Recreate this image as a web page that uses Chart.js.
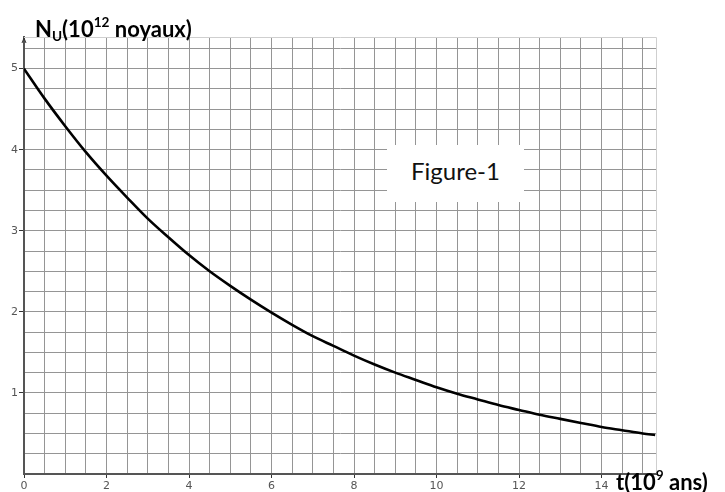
<!DOCTYPE html>
<html>
<head>
<meta charset="utf-8">
<script src="https://cdn.jsdelivr.net/npm/chart.js@4.4.1/dist/chart.umd.min.js"></script>
<style>
  html, body { margin: 0; padding: 0; background: #fff; }
  #wrap { position: relative; width: 725px; height: 492px; overflow: hidden; }
  #c { position: absolute; left: 0; top: 0; }
  .title { position: absolute; font-family: Lato, sans-serif; font-weight: bold; color: #000; white-space: nowrap; line-height: 1; }
  .title sub { font-size: 0.62em; vertical-align: -0.3em; }
  .title sup { font-size: 0.62em; vertical-align: 0.75em; }
  #fig { position: absolute; left: 387px; top: 145px; width: 137px; height: 57px; background: #fff;
         font-family: Lato, sans-serif; font-size: 24px; color: #111; text-align: center; line-height: 52px; }
</style>
</head>
<body>
<div id="wrap">
  <canvas id="c" width="725" height="492"></canvas>
  <div class="title" id="ytitle" style="left:35px; top:16px; font-size:22px;">N<sub>U</sub>(10<sup>12</sup> noyaux)</div>
  <div class="title" id="xtitle" style="left:616px; top:469px; font-size:22px;">t(10<sup>9</sup> ans)</div>
  <div id="fig">Figure-1</div>
</div>
<script>
// ─────────────────────────────────────────────────────
// DATA
// ─────────────────────────────────────────────────────
const tValues = [0, 0.5, 1, 1.5, 2, 2.5, 3, 3.5, 4, 4.5, 5, 5.5, 6, 6.5, 7, 7.5,
                 8, 8.5, 9, 9.5, 10, 10.5, 11, 11.5, 12, 12.5, 13, 13.5, 14, 14.5, 15, 15.3];
const nValues = [5.00, 4.63, 4.29, 3.97, 3.68, 3.41, 3.15, 2.92, 2.70, 2.50, 2.32, 2.15, 1.99, 1.84, 1.70, 1.58,
                 1.46, 1.35, 1.25, 1.16, 1.07, 0.99, 0.92, 0.85, 0.79, 0.73, 0.68, 0.63, 0.58, 0.54, 0.50, 0.48];

const xTickLabels = [0, 2, 4, 6, 8, 10, 12, 14];
const yTickLabels = [1, 2, 3, 4, 5];

// grid steps (graph paper)
const X_MAX = 15.32, Y_MAX = 5.39;
const xGrid = [], yGrid = [];
for (let v = 0; v <= 15; v += 0.5) xGrid.push(v);
for (let v = 0; v <= 5.25; v += 0.25) yGrid.push(v);

const GRID = '#959595';
const AXIS = '#555';
const TICK_FONT = { family: 'DejaVu Sans', size: 11 };

// light frame on top/right + small arrow on the y axis
const framePlugin = {
  id: 'frame',
  beforeDatasetsDraw(chart) {
    const { ctx, chartArea: a } = chart;
    ctx.save();
    ctx.strokeStyle = '#cfcfcf';
    ctx.lineWidth = 1;
    ctx.beginPath();
    ctx.moveTo(a.left, a.top + 0.5);
    ctx.lineTo(a.right + 0.5, a.top + 0.5);
    ctx.lineTo(a.right + 0.5, a.bottom);
    ctx.stroke();
    ctx.strokeStyle = '#333';
    ctx.beginPath();
    ctx.moveTo(a.left - 2, a.top + 6);
    ctx.lineTo(a.left, a.top + 1);
    ctx.lineTo(a.left + 2, a.top + 6);
    ctx.stroke();
    ctx.restore();
  }
};

new Chart(document.getElementById('c').getContext('2d'), {
  type: 'line',
  data: {
    datasets: [{
      data: tValues.map((t, i) => ({ x: t, y: nValues[i] })),
      borderColor: '#000',
      borderWidth: 2.6,
      pointRadius: 0,
      cubicInterpolationMode: 'monotone',
      fill: false
    }]
  },
  options: {
    responsive: false,
    animation: false,
    layout: { padding: { top: 37, right: 69, left: 0, bottom: 0 } },
    plugins: { legend: { display: false }, tooltip: { enabled: false } },
    scales: {
      x: {
        type: 'linear',
        min: 0,
        max: X_MAX,
        afterBuildTicks: (s) => { s.ticks = xGrid.map(v => ({ value: v })); },
        afterFit: (s) => { s.height = 18; },
        grid: {
          color: GRID,
          lineWidth: 1,
          tickLength: 4,
          tickColor: (c) => xTickLabels.includes(c.tick && c.tick.value) ? '#333' : 'rgba(0,0,0,0)'
        },
        border: { color: AXIS, width: 2 },
        ticks: {
          autoSkip: false,
          maxRotation: 0,
          padding: 2,
          color: '#555',
          font: TICK_FONT,
          callback: (v) => xTickLabels.includes(v) ? String(v) : ''
        }
      },
      y: {
        min: 0,
        max: Y_MAX,
        afterBuildTicks: (s) => { s.ticks = yGrid.map(v => ({ value: v })); },
        afterFit: (s) => { s.width = 24; },
        grid: {
          color: GRID,
          lineWidth: 1,
          tickLength: 5,
          tickColor: (c) => yTickLabels.includes(c.tick && c.tick.value) ? '#333' : 'rgba(0,0,0,0)'
        },
        border: { color: AXIS, width: 2 },
        ticks: {
          autoSkip: false,
          padding: 1,
          color: '#555',
          font: TICK_FONT,
          callback: (v) => yTickLabels.includes(v) ? String(v) : ''
        }
      }
    }
  },
  plugins: [framePlugin]
});
</script>
</body>
</html>
